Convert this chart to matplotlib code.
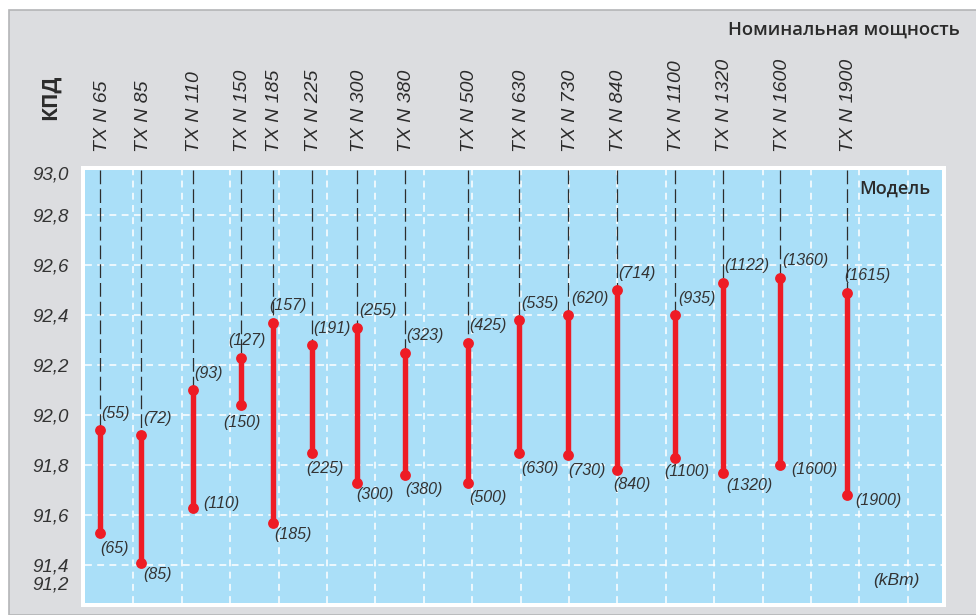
import matplotlib.pyplot as plt
from matplotlib.patches import Rectangle
from matplotlib.lines import Line2D

# models and efficiency range (КПД, %)
models = ["TX N 65", "TX N 85", "TX N 110", "TX N 150", "TX N 185", "TX N 225",
          "TX N 300", "TX N 380", "TX N 500", "TX N 630", "TX N 730", "TX N 840",
          "TX N 1100", "TX N 1320", "TX N 1600", "TX N 1900"]
# position of each model along the (unscaled) horizontal axis, in grid cells
model_x = [0.31, 1.16, 2.23, 3.22, 3.88, 4.69, 5.62, 6.61, 7.91, 8.97, 9.98,
           10.99, 12.19, 13.18, 14.36, 15.74]
eff_top = [91.94, 91.92, 92.10, 92.23, 92.37, 92.28, 92.35, 92.25, 92.29, 92.38,
           92.40, 92.50, 92.40, 92.53, 92.55, 92.49]
eff_bottom = [91.53, 91.41, 91.63, 92.04, 91.57, 91.85, 91.73, 91.76, 91.73, 91.85,
              91.84, 91.78, 91.83, 91.77, 91.80, 91.68]
power_top = [55, 72, 93, 127, 157, 191, 255, 323, 425, 535, 620, 714, 935, 1122, 1360, 1615]
power_bottom = [65, 85, 110, 150, 185, 225, 300, 380, 500, 630, 730, 840, 1100, 1320, 1600, 1900]

ytick_labels = ["91,2", "91,4", "91,6", "91,8", "92,0", "92,2", "92,4", "92,6", "92,8", "93,0"]
grid_y = [91.4, 91.6, 91.8, 92.0, 92.2, 92.4, 92.6, 92.8]

# label offsets in pixels (dx right, dy down) - purely layout
top_dx = [1, 2, 1, -13, -4, 1, 2, 1, 1, 2, 3, 1, 3, 1, 2, -3]
bot_off = [(0, 16), (2, 12), (10, -4), (-18, 17), (1, 12), (-6, 16), (-1, 12), (0, 14),
           (1, 15), (2, 16), (0, 15), (-4, 14), (-11, 14), (3, 13), (11, 4), (8, 5)]

W, H = 976, 615
fig = plt.figure(figsize=(W / 100, H / 100), dpi=100)
fig.patch.set_facecolor("white")

# grey panel with thin border
fig.patches.append(Rectangle((9 / W, 0), 1, (H - 10) / H, transform=fig.transFigure,
                             facecolor="#dcdde0", edgecolor="#b4b5b7", linewidth=1.2, zorder=0))

left, right, top, bottom = 85, 942, 170, 603
# white frame around the plot area
fig.patches.append(Rectangle(((left - 4) / W, 1 - (bottom + 4) / H), (right - left + 8) / W,
                             (bottom - top + 8) / H, transform=fig.transFigure,
                             facecolor="white", edgecolor="none", zorder=0.5))
ax = fig.add_axes([left / W, 1 - bottom / H, (right - left) / W, (bottom - top) / H])
ax.set_zorder(2)

ax.set_facecolor("#aadff8")
ax.set_xlim(0, (right - left) / 48.4)
ax.set_ylim(91.25, 92.98)
for s in ax.spines.values():
    s.set_visible(False)

for gy in grid_y:
    ax.axhline(gy, color="white", lw=1.1, dashes=(4.5, 3.5), zorder=1)
for gx in range(1, 18):
    ax.axvline(gx, color="white", lw=1.1, dashes=(4.5, 3.5), zorder=1)

ytick_pos = [91.33] + grid_y + [92.97]
ax.set_yticks(ytick_pos, ytick_labels)
ax.tick_params(axis="y", length=0, pad=12, labelsize=13.5, labelcolor="#333333")
for t in ax.get_yticklabels():
    t.set_fontstyle("italic")
    t.set_family("Liberation Sans")
ax.set_xticks([])

px = 0.72  # points per pixel at dpi 100
ylim_top = ax.get_ylim()[1]
for i, x in enumerate(model_x):
    ax.add_line(Line2D([x, x], [ylim_top, eff_top[i]], color="#2d2d2d", lw=0.9,
                       dashes=(11, 4), zorder=2))
    ax.plot([x, x], [eff_bottom[i], eff_top[i]], color="#ee1c25", lw=3.9,
            solid_capstyle="butt", zorder=3)
    ax.plot([x, x], [eff_bottom[i], eff_top[i]], "o", color="#ee1c25", ms=7.8,
            markeredgewidth=0, zorder=4)
    ax.annotate(f"({power_top[i]})", (x, eff_top[i]), xytext=(top_dx[i] * px, 17 * px),
                textcoords="offset points", ha="left", va="center", fontsize=11.5,
                style="italic", family="Liberation Sans", color="#333333", zorder=5)
    dx, dy = bot_off[i]
    ax.annotate(f"({power_bottom[i]})", (x, eff_bottom[i]), xytext=(dx * px, -dy * px),
                textcoords="offset points", ha="left", va="center", fontsize=11.5,
                style="italic", family="Liberation Sans", color="#333333", zorder=5)
    ax.annotate(models[i], (x, ylim_top), xytext=(2 * px, 18 * px), textcoords="offset points",
                ha="center", va="bottom", rotation=90, fontsize=14, style="italic",
                family="Liberation Sans", color="#2b2b2b", annotation_clip=False)

fig.text(50 / W, 1 - 97 / H, "КПД", rotation=90, ha="center", va="center",
         fontsize=15, fontweight="bold", family="Open Sans", color="#2b2b2b")
fig.text(960 / W, 1 - 30 / H, "Номинальная мощность", ha="right", va="center",
         fontsize=13.3, family="Open Sans", fontweight="semibold", color="#2b2b2b")
fig.text(930 / W, 1 - 189 / H, "Модель", ha="right", va="center", fontsize=13,
         family="Open Sans", fontweight="semibold", color="#2b2b2b", zorder=3)
fig.text(920 / W, 1 - 580 / H, "(kBm)", ha="right", va="center", fontsize=12.5,
         style="italic", family="Liberation Sans", color="#333333", zorder=3)

fig.savefig("out.png", dpi=100)
